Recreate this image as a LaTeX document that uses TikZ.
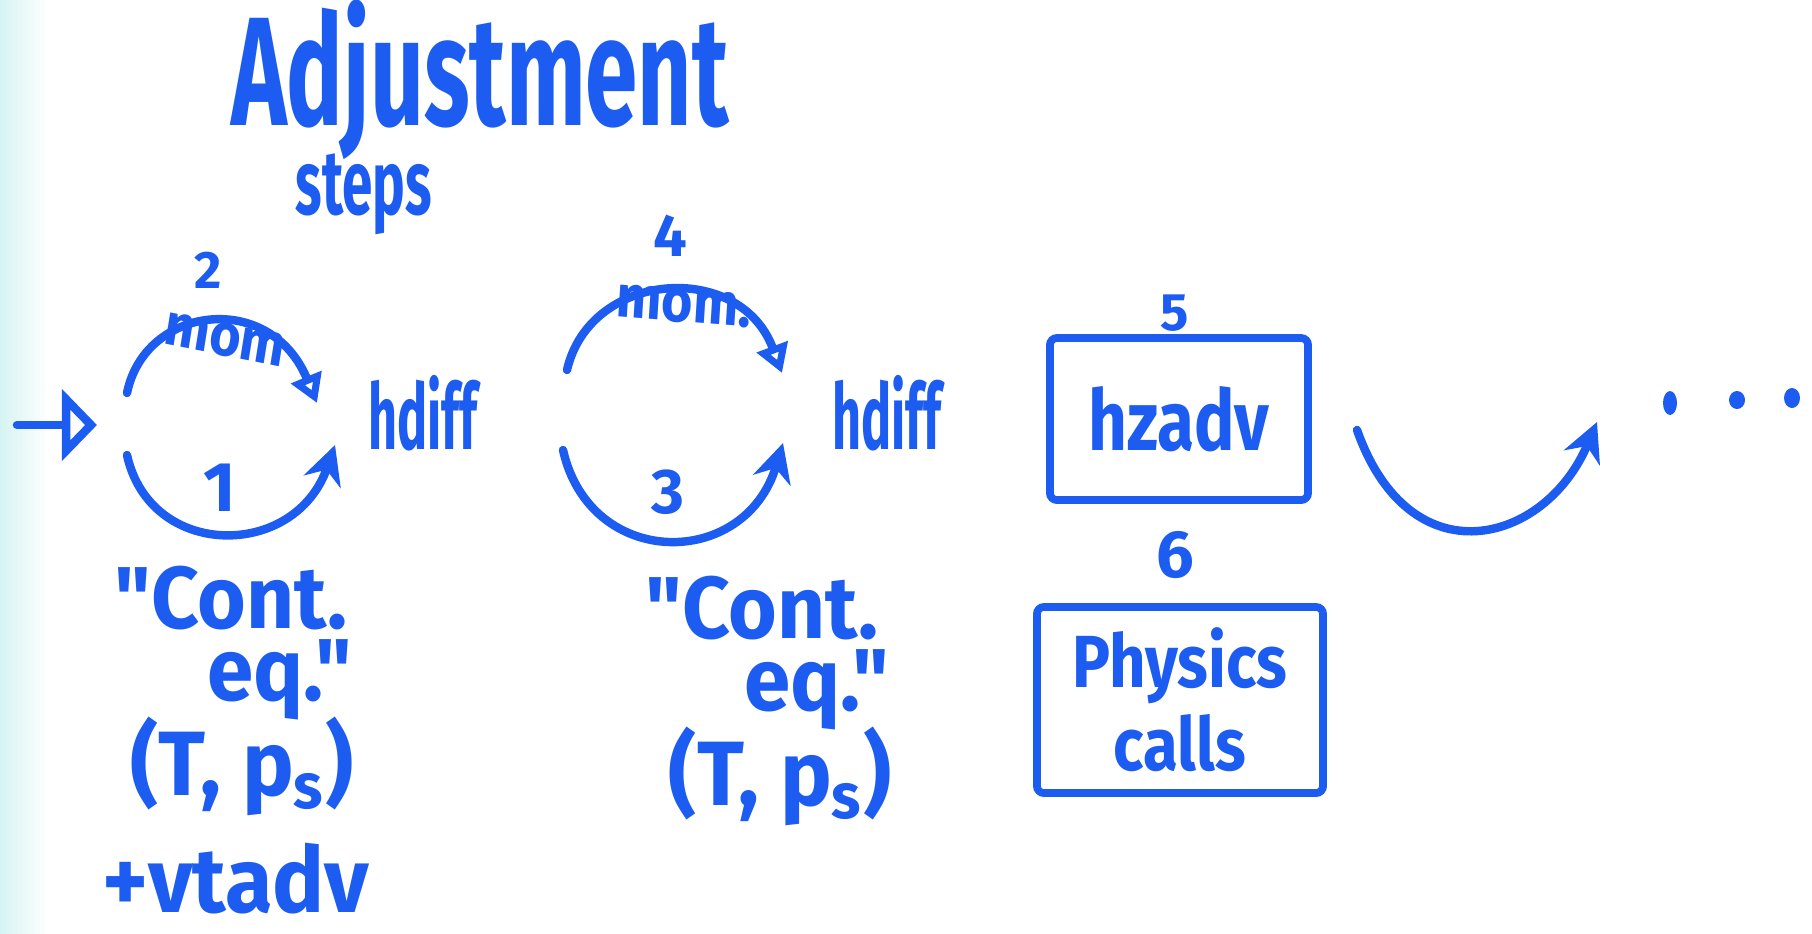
\documentclass[tikz,border=0pt]{standalone}
\usepackage{fontspec}
\setmainfont{Fira Sans}[Ligatures=TeXOff]
\usetikzlibrary{arrows.meta}
\definecolor{ink}{RGB}{28,92,240}
\definecolor{strip}{RGB}{214,243,243}
\begin{document}
\begin{tikzpicture}[x=0.01cm,y=-0.01cm,
  txt/.style={text=ink, inner sep=0pt},
  fs/.style={font=\fontsize{#1}{#1}\selectfont\bfseries},
  stroke/.style={draw=ink, line width=2.4pt, line cap=round},
  fillhead/.style={-{Stealth[length=11pt,width=11pt]}},
  openhead/.style={-{Triangle[open,length=8pt,width=9pt]}},
  boxnode/.style={draw=ink, line width=2.2pt, text=ink, inner sep=0pt, align=center, rounded corners=2pt},
]
\fill[white] (0,0) rectangle (1812,933);
\shade[left color=strip, right color=white] (0,0) rectangle (48,933);
\useasboundingbox (0,0) rectangle (1812,933);

% title
\node[txt, fs=44, xscale=0.61, anchor=base] (title) at (480,125) {Adjustment};
\node[txt, fs=26, xscale=0.6, anchor=base] (steps) at (364,214) {steps};

% cycle 1
\node[txt, fs=15] (n2) at (208,270) {2};
\node[txt, fs=17, xscale=0.9, rotate=-10] (mom1) at (225,340) {mom};
\node[txt, fs=20] (n1) at (220,488) {1};
\node[txt, fs=26, xscale=0.55, anchor=base] (hd1) at (423,449) {hdiff};

% cycle 2
\node[txt, fs=17] (n4) at (670,236) {4};
\node[txt, fs=17, xscale=0.9, rotate=-4] (mom2) at (684,306) {mom.};
\node[txt, fs=18] (n3) at (668,492) {3};
\node[txt, fs=26, xscale=0.55, anchor=base] (hd2) at (887,449) {hdiff};

% boxes
\node[txt, fs=15] (n5) at (1175,313) {5};
\node[boxnode, minimum width=2.58cm, minimum height=1.62cm, font=\fontsize{24}{24}\selectfont\bfseries] (hz) at (1179,419) {\scalebox{0.8}[1]{hzadv}};
\node[txt, fs=19] (n6) at (1175,555) {6};
\node[boxnode, minimum width=2.86cm, minimum height=1.86cm, font=\fontsize{21}{23.6}\selectfont\bfseries] (phys) at (1180,700) {\scalebox{0.86}[1]{Physics}\\\scalebox{0.86}[1]{calls}};

% bottom labels
\node[txt, fs=25, xscale=0.95, anchor=base] (ce1) at (231,628) {"Cont.};
\node[txt, fs=25, xscale=0.95, anchor=base] (eq1) at (280,700) {eq."};
\node[txt, fs=26, xscale=0.95, anchor=base] (tp1) at (242,795) {(T, p\textsubscript{s})};
\node[txt, fs=26, xscale=0.95, anchor=base] (vt1) at (236,912) {+vtadv};
\node[txt, fs=25, xscale=0.95, anchor=base] (ce2) at (762,638) {"Cont.};
\node[txt, fs=25, xscale=0.95, anchor=base] (eq2) at (817,710) {eq."};
\node[txt, fs=26, xscale=0.95, anchor=base] (tp2) at (780,805) {(T, p\textsubscript{s})};

% connectors
\coordinate (ent) at (17,425);
\coordinate (c1in) at (97,425);
\draw[stroke, -{Triangle[open,length=10pt,width=20pt]}] (ent) -- (c1in);

\coordinate (u1s) at (127,393);
\coordinate (u1e) at (317,403);
\draw[stroke, openhead] (u1s) .. controls (145,305) and (270,290) .. (u1e);
\coordinate (l1s) at (127,455);
\coordinate (l1e) at (335,445);
\draw[stroke, fillhead] (l1s) .. controls (150,560) and (295,560) .. (l1e);

\coordinate (u2s) at (567,370);
\coordinate (u2e) at (782,373);
\draw[stroke, openhead] (u2s) .. controls (590,270) and (740,260) .. (u2e);
\coordinate (l2s) at (563,450);
\coordinate (l2e) at (783,443);
\draw[stroke, fillhead] (l2s) .. controls (590,570) and (745,570) .. (l2e);

\coordinate (rs) at (1357,430);
\coordinate (re) at (1597,422);
\draw[stroke, fillhead] (rs) .. controls (1410,580) and (1545,545) .. (re);

% ellipsis dots
\fill[ink] (1670,403) ellipse [x radius=7, y radius=12];
\fill[ink] (1737,400) ellipse [x radius=8, y radius=9];
\fill[ink] (1792,398) ellipse [x radius=8, y radius=10];
\end{tikzpicture}
\end{document}
